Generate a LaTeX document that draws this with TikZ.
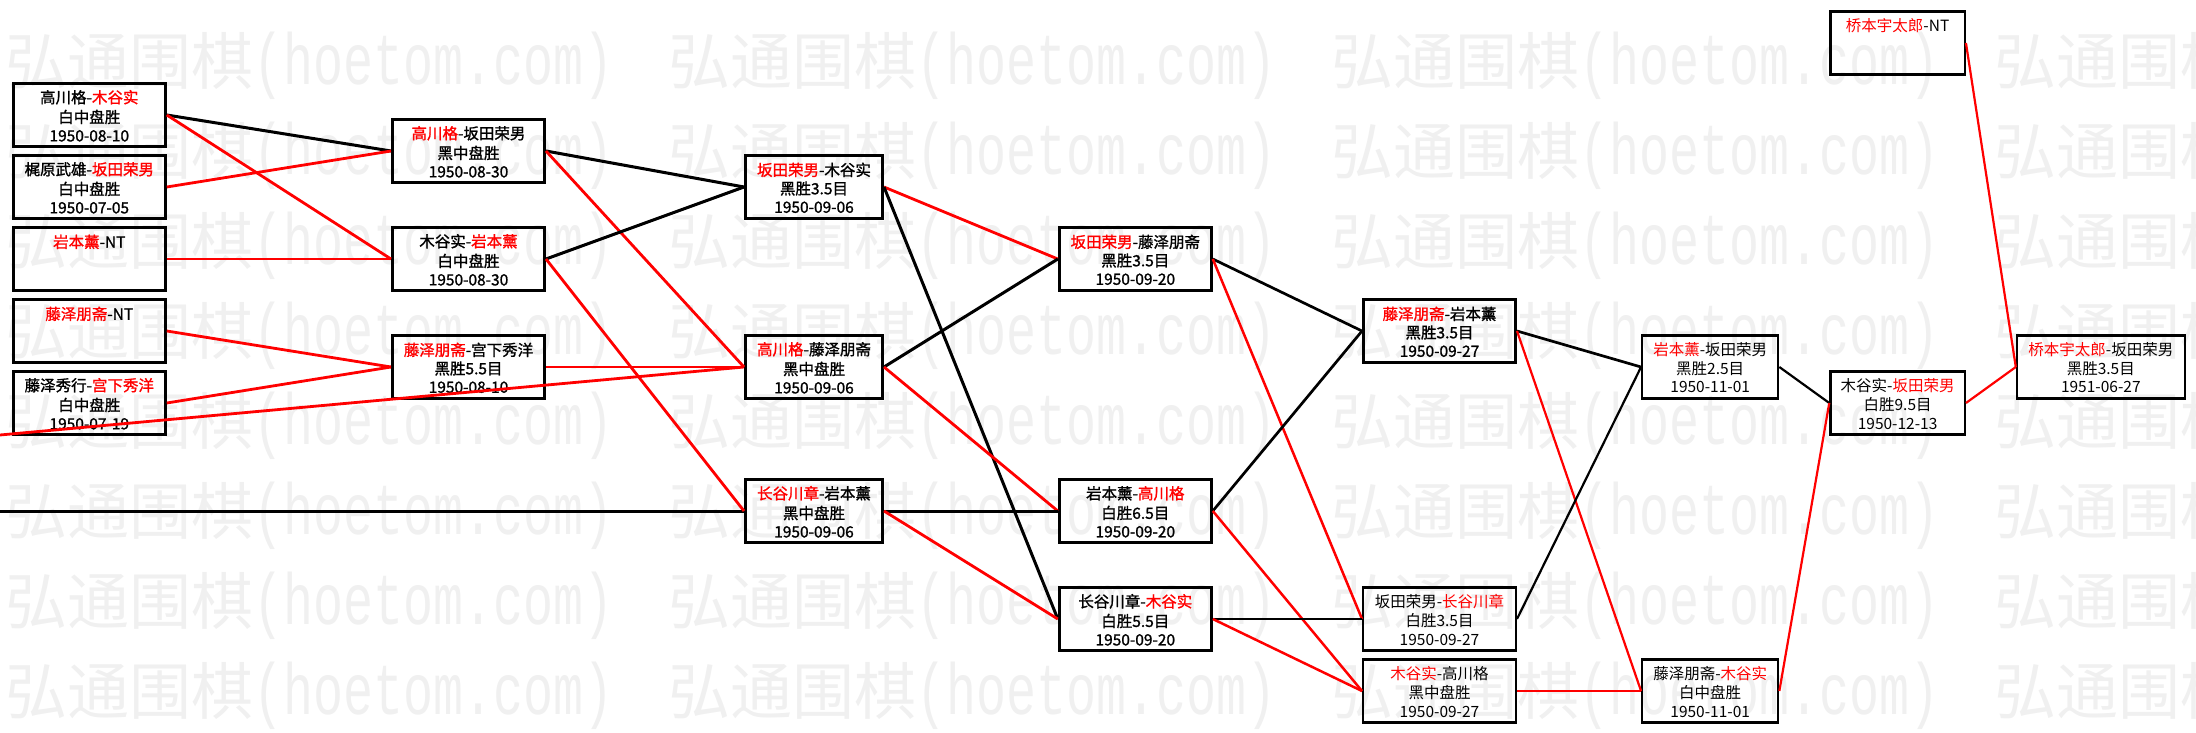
\documentclass[tikz,border=0pt]{standalone}
\usepackage{fontspec}
\setmainfont{Noto Sans CJK SC}
\newfontfamily\boldcjk{Noto Sans CJK SC}[FakeBold=1.2]
\newfontfamily\wmcjk{Noto Sans CJK SC}
\newfontfamily\wmlat{Liberation Mono}
\newcommand\rd[1]{\textcolor{red}{#1}}
\newcommand\tl[3]{\strut#1\\\strut#2\\\strut#3}
\newcommand\gbox[6]{%
  \node[box#5, minimum width=#4] (#1) at (#2,#3) {};
  \node[txt#5] (#1t) at ([yshift=-3.5pt]#1.center) {#6};
}
\tikzset{
  boxe/.style={draw=black, line width=3pt, minimum height=62.5pt, inner sep=0pt},
  boxl/.style={draw=black, line width=2.3pt, minimum height=63.2pt, inner sep=0pt},
  txte/.style={align=center, inner sep=0pt, font=\boldcjk\fontsize{15.5}{18.5}\selectfont},
  txtl/.style={align=center, inner sep=0pt, font=\fontsize{15.5}{18.5}\selectfont},
  blk/.style={draw=black, line width=3pt},
  redl/.style={draw=red, line width=2.8pt},
  blkm/.style={draw=black, line width=2.7pt},
  redm/.style={draw=red, line width=2.5pt},
  blkt/.style={draw=black, line width=2.2pt},
  redt/.style={draw=red, line width=2.2pt},
  wm/.style={text=black!6, inner sep=0pt, anchor=west, font=\wmcjk\fontsize{62}{62}\selectfont}
}
\begin{document}
\begin{tikzpicture}[x=1pt,y=-1pt]
\useasboundingbox (0,0) rectangle (2196,733);
% watermark
\begin{scope}
\clip (0,0) rectangle (2196,733);
\foreach \r in {0,...,7}{
  \foreach \c in {0,...,3}{
    \node[wm] (wm-\r-\c) at (5+663*\c, 66+90*\r) {弘通围棋{\wmlat\fontsize{50}{50}\selectfont\scalebox{1}[1.45]{(hoetom.com)}}};
  }
}
\end{scope}
% column A
\gbox{a1}{89.3}{115}{152pt}{e}{\tl{高川格-\rd{木谷实}}{白中盘胜}{1950-08-10}}
\gbox{a2}{89.3}{187}{152pt}{e}{\tl{梶原武雄-\rd{坂田荣男}}{白中盘胜}{1950-07-05}}
\gbox{a3}{89.3}{259}{152pt}{e}{\tl{\rd{岩本薰}-NT}{}{}}
\gbox{a4}{89.3}{331}{152pt}{e}{\tl{\rd{藤泽朋斋}-NT}{}{}}
\gbox{a5}{89.3}{403}{152pt}{e}{\tl{藤泽秀行-\rd{宫下秀洋}}{白中盘胜}{1950-07-19}}
% column B
\gbox{b1}{468.5}{151}{152pt}{e}{\tl{\rd{高川格}-坂田荣男}{黑中盘胜}{1950-08-30}}
\gbox{b2}{468.5}{259}{152pt}{e}{\tl{木谷实-\rd{岩本薰}}{白中盘胜}{1950-08-30}}
\gbox{b3}{468.5}{367}{152pt}{e}{\tl{\rd{藤泽朋斋}-宫下秀洋}{黑胜5.5目}{1950-08-10}}
% column C
\gbox{c1}{814}{187}{137pt}{e}{\tl{\rd{坂田荣男}-木谷实}{黑胜3.5目}{1950-09-06}}
\gbox{c2}{814}{367}{137pt}{e}{\tl{\rd{高川格}-藤泽朋斋}{黑中盘胜}{1950-09-06}}
\gbox{c3}{814}{511}{137pt}{e}{\tl{\rd{长谷川章}-岩本薰}{黑中盘胜}{1950-09-06}}
% column D
\gbox{d1}{1135.3}{259}{152pt}{e}{\tl{\rd{坂田荣男}-藤泽朋斋}{黑胜3.5目}{1950-09-20}}
\gbox{d2}{1135.3}{511}{152pt}{e}{\tl{岩本薰-\rd{高川格}}{白胜6.5目}{1950-09-20}}
\gbox{d3}{1135.3}{619}{152pt}{e}{\tl{长谷川章-\rd{木谷实}}{白胜5.5目}{1950-09-20}}
% column E
\gbox{e1}{1439.5}{331}{152pt}{e}{\tl{\rd{藤泽朋斋}-岩本薰}{黑胜3.5目}{1950-09-27}}
\gbox{e2}{1439.5}{619}{152.7pt}{l}{\tl{坂田荣男-\rd{长谷川章}}{白胜3.5目}{1950-09-27}}
\gbox{e3}{1439.5}{691}{152.7pt}{l}{\tl{\rd{木谷实}-高川格}{黑中盘胜}{1950-09-27}}
% column F
\gbox{f1}{1710.2}{367}{136pt}{l}{\tl{\rd{岩本薰}-坂田荣男}{黑胜2.5目}{1950-11-01}}
\gbox{f2}{1710.2}{691}{136pt}{l}{\tl{藤泽朋斋-\rd{木谷实}}{白中盘胜}{1950-11-01}}
% column G
\gbox{g1}{1897.6}{403}{134.4pt}{l}{\tl{木谷实-\rd{坂田荣男}}{白胜9.5目}{1950-12-13}}
\gbox{nt}{1897.6}{43}{134.4pt}{l}{\tl{\rd{桥本宇太郎}-NT}{}{}}
% column H
\gbox{h1}{2100.8}{367}{167.7pt}{l}{\tl{\rd{桥本宇太郎}-坂田荣男}{黑胜3.5目}{1951-06-27}}
% free ends at the left edge
\coordinate (inR) at (0,435);
\coordinate (inB) at (0,511);
% A -> B
\draw[blk] (a1.east) -- (b1.west);
\draw[redl] (a1.east) -- (b2.west);
\draw[redl] (a2.east) -- (b1.west);
\draw[redl] (a3.east) -- (b2.west);
\draw[redl] (a4.east) -- (b3.west);
\draw[redl] (a5.east) -- (b3.west);
\draw[redl] (inR) -- (c2.west);
\draw[blk] (inB) -- (c3.west);
% B -> C
\draw[blk] (b1.east) -- (c1.west);
\draw[redl] (b1.east) -- (c2.west);
\draw[blk] (b2.east) -- (c1.west);
\draw[redl] (b2.east) -- (c3.west);
\draw[redl] (b3.east) -- (c2.west);
% C -> D
\draw[redl] (c1.east) -- (d1.west);
\draw[blk] (c1.east) -- (d3.west);
\draw[blk] (c2.east) -- (d1.west);
\draw[redl] (c2.east) -- (d2.west);
\draw[blk] (c3.east) -- (d2.west);
\draw[redl] (c3.east) -- (d3.west);
% D -> E
\draw[blkm] (d1.east) -- (e1.west);
\draw[redm] (d1.east) -- (e2.west);
\draw[blkm] (d2.east) -- (e1.west);
\draw[redm] (d2.east) -- (e3.west);
\draw[blkm] (d3.east) -- (e2.west);
\draw[redm] (d3.east) -- (e3.west);
% E -> F
\draw[blkm] (e1.east) -- (f1.west);
\draw[redt] (e1.east) -- (f2.west);
\draw[blkt] (e2.east) -- (f1.west);
\draw[redt] (e3.east) -- (f2.west);
% F -> G -> H
\draw[blkt] (f1.east) -- (g1.west);
\draw[redt] (f2.east) -- (g1.west);
\draw[redt] (g1.east) -- (h1.west);
\draw[redt] (nt.east) -- (h1.west);
\end{tikzpicture}
\end{document}
